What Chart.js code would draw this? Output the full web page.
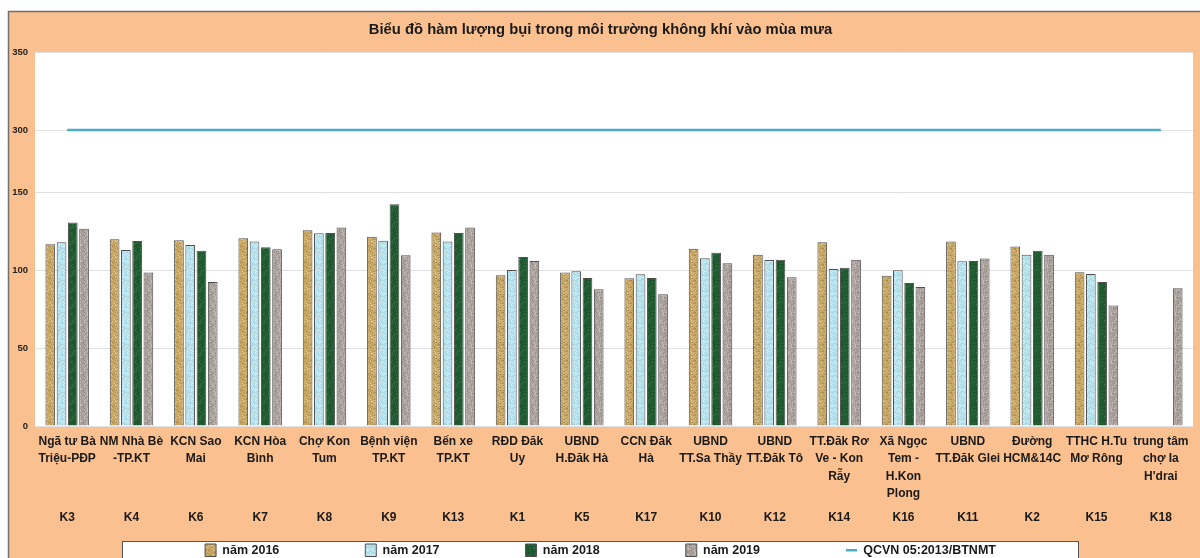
<!DOCTYPE html>
<html>
<head>
<meta charset="utf-8">
<script src="https://cdn.jsdelivr.net/npm/chart.js@4.4.1/dist/chart.umd.min.js"></script>
<style>
html,body{margin:0;padding:0;background:#ffffff;}
#wrap{width:1200px;height:558px;}
canvas{display:block;}
</style>
</head>
<body>
<div id="wrap"><canvas id="c" width="1200" height="558"></canvas></div>
<script>
// ---------------- data ----------------
const chartTitle = 'Biểu đồ hàm lượng bụi trong môi trường không khí vào mùa mưa';
const categoryNames = [
  ['Ngã tư Bà', 'Triệu-PĐP'],
  ['NM Nhà Bè', '-TP.KT'],
  ['KCN Sao', 'Mai'],
  ['KCN Hòa', 'Bình'],
  ['Chợ Kon', 'Tum'],
  ['Bệnh viện', 'TP.KT'],
  ['Bến xe', 'TP.KT'],
  ['RĐD Đăk', 'Uy'],
  ['UBND', 'H.Đăk Hà'],
  ['CCN Đăk', 'Hà'],
  ['UBND', 'TT.Sa Thầy'],
  ['UBND', 'TT.Đăk Tô'],
  ['TT.Đăk Rơ', 'Ve - Kon', 'Rẫy'],
  ['Xã Ngọc', 'Tem -', 'H.Kon', 'Plong'],
  ['UBND', 'TT.Đăk Glei'],
  ['Đường', 'HCM&14C'],
  ['TTHC H.Tu', 'Mơ Rông'],
  ['trung tâm', 'chợ Ia', "H'drai"]
];
const siteCodes = ['K3','K4','K6','K7','K8','K9','K13','K1','K5','K17','K10','K12','K14','K16','K11','K2','K15','K18'];
const seriesNames = ['năm 2016', 'năm 2017', 'năm 2018', 'năm 2019', 'QCVN 05:2013/BTNMT'];
const values2016 = [116.7, 119.9, 119.3, 120.5, 125.7, 121.6, 124.2, 96.8, 98.5, 94.8, 113.9, 110.0, 118.0, 96.5, 118.4, 115.2, 98.7, null];
const values2017 = [118.0, 113.0, 116.2, 118.4, 123.8, 119.0, 118.4, 100.2, 99.3, 97.4, 107.7, 106.6, 100.8, 100.0, 105.8, 110.0, 97.6, null];
const values2018 = [130.6, 118.8, 112.6, 114.8, 124.0, 142.4, 124.0, 108.5, 95.0, 95.0, 111.3, 106.8, 101.7, 91.8, 106.0, 112.6, 92.5, null];
const values2019 = [126.7, 98.5, 92.5, 113.5, 127.4, 109.6, 127.4, 106.0, 87.8, 84.6, 104.5, 95.5, 106.8, 89.3, 107.5, 110.0, 77.3, 88.4];
const qcvnLimit  = [300, 300, 300, 300, 300, 300, 300, 300, 300, 300, 300, 300, 300, 300, 300, 300, 300, 300];
const lowTicks  = [0, 50, 100, 150];
const highTicks = [300, 350];

// ---------------- styling helpers ----------------
const FONT = "'Liberation Sans', Arial, sans-serif";
function texture(base, dark, light, seed) {
  const n = 16;
  const c = document.createElement('canvas');
  c.width = n; c.height = n;
  const g = c.getContext('2d');
  g.fillStyle = base; g.fillRect(0, 0, n, n);
  for (let y = 0; y < n; y++) {
    for (let x = 0; x < n; x++) {
      const h = Math.abs(Math.sin((x + seed * 3.1) * 12.9898 + (y + seed) * 78.233) * 43758.5453) % 1;
      if (h < 0.22) { g.fillStyle = dark; g.fillRect(x, y, 1, 1); }
      else if (h > 0.82) { g.fillStyle = light; g.fillRect(x, y, 1, 1); }
    }
  }
  return g.createPattern(c, 'repeat');
}
const fill2016 = texture('#cbaa68', '#b08f4f', '#dcc38c', 1);
const fill2017 = texture('#b7e3ef', '#a4d6e6', '#d4f0f7', 2);
const fill2018 = texture('#1f5a30', '#17482577', '#2c6e40', 3);
const fill2019 = texture('#aca29d', '#978c87', '#c2b9b4', 4);
const lineColor = '#4bacc6';

const bgPlugin = {
  id: 'bgPlugin',
  beforeDraw(chart) {
    const ctx = chart.ctx, w = chart.width, h = chart.height, a = chart.chartArea;
    ctx.save();
    ctx.fillStyle = '#ffffff'; ctx.fillRect(0, 0, w, h);
    ctx.fillStyle = '#fbc08f'; ctx.fillRect(8, 11, w, h);
    ctx.strokeStyle = '#707070'; ctx.lineWidth = 1.5;
    ctx.beginPath(); ctx.moveTo(8.5, h); ctx.lineTo(8.5, 11.5); ctx.lineTo(w, 11.5); ctx.stroke();
    ctx.fillStyle = '#ffffff';
    ctx.fillRect(a.left, a.top, a.right - a.left, a.bottom - a.top);
    ctx.fillStyle = '#ffffff'; ctx.fillRect(122, 541, 956, 30);
    ctx.strokeStyle = '#555555'; ctx.lineWidth = 1; ctx.strokeRect(122.5, 541.5, 956, 30);
    ctx.restore();
    if (chart.legend) { chart.legend.top = h - 100; chart.legend.bottom = h; }
  }
};

const barBase = {
  type: 'bar', yAxisID: 'y', xAxisID: 'x',
  borderColor: '#505050', borderWidth: 1,
  categoryPercentage: 0.70, barPercentage: 0.86,
  pointStyle: 'rect'
};

new Chart(document.getElementById('c'), {
  type: 'bar',
  data: {
    labels: categoryNames,
    datasets: [
      Object.assign({}, barBase, { label: seriesNames[0], data: values2016, backgroundColor: fill2016 }),
      Object.assign({}, barBase, { label: seriesNames[1], data: values2017, backgroundColor: fill2017 }),
      Object.assign({}, barBase, { label: seriesNames[2], data: values2018, backgroundColor: fill2018 }),
      Object.assign({}, barBase, { label: seriesNames[3], data: values2019, backgroundColor: fill2019 }),
      { type: 'line', label: seriesNames[4], data: qcvnLimit, yAxisID: 'yHigh', xAxisID: 'x',
        borderColor: lineColor, backgroundColor: lineColor, borderWidth: 2.5,
        pointRadius: 0, pointHoverRadius: 0, pointStyle: 'line', tension: 0, clip: false }
    ]
  },
  options: {
    responsive: false,
    animation: false,
    devicePixelRatio: 1,
    layout: { padding: { left: 8, right: 7, top: 11, bottom: 0 } },
    plugins: {
      tooltip: { enabled: false },
      title: {
        display: true, text: chartTitle, color: '#1a1a1a',
        font: { family: FONT, size: 14.8, weight: 'bold', lineHeight: 1.2 },
        padding: { top: 10, bottom: 13.5 }
      },
      legend: {
        display: true, position: 'bottom', maxHeight: 32,
        labels: {
          color: '#1a1a1a', font: { family: FONT, size: 12.5, weight: 'bold' },
          usePointStyle: true, pointStyleWidth: 11, boxHeight: 13, padding: 86
        }
      }
    },
    scales: {
      x: {
        type: 'category', position: 'bottom', weight: 1,
        grid: { display: false, drawTicks: false }, border: { display: false },
        ticks: { color: '#1a1a1a', font: { family: FONT, size: 12, weight: 'bold', lineHeight: 1.45 },
                 maxRotation: 0, minRotation: 0, autoSkip: false, padding: 7 },
        afterFit(s) { s.height = 75; }
      },
      xCode: {
        type: 'category', position: 'bottom', weight: 2, offset: true, labels: siteCodes,
        grid: { display: false, drawTicks: false }, border: { display: false },
        ticks: { color: '#1a1a1a', font: { family: FONT, size: 12, weight: 'bold' },
                 maxRotation: 0, autoSkip: false, padding: 9 },
        afterFit(s) { s.height = 25; }
      },
      y: {
        type: 'linear', position: 'left', stack: 'v', stackWeight: 150, min: 0, max: 150,
        grid: { color: '#e0e0e0', drawTicks: false }, border: { display: false },
        ticks: { color: '#222222', font: { family: FONT, size: 9.5, weight: 'bold' }, padding: 7 },
        afterBuildTicks(s) { s.ticks = lowTicks.map(v => ({ value: v })); },
        afterFit(s) { s.width = 27; }
      },
      yHigh: {
        type: 'linear', position: 'left', stack: 'v', stackWeight: 90, min: 260, max: 350,
        grid: { color: '#e0e0e0', drawTicks: false }, border: { display: false },
        ticks: { color: '#222222', font: { family: FONT, size: 9.5, weight: 'bold' }, padding: 7 },
        afterBuildTicks(s) { s.ticks = highTicks.map(v => ({ value: v })); },
        afterFit(s) { s.width = 27; }
      }
    }
  },
  plugins: [bgPlugin]
});
</script>
</body>
</html>
